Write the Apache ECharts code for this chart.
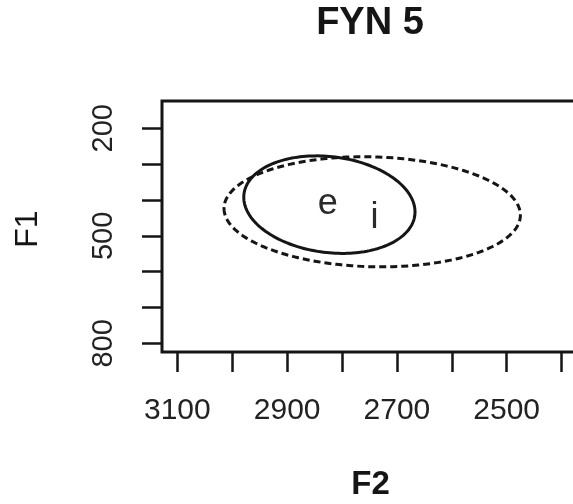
<!DOCTYPE html>
<html>
<head>
<meta charset="utf-8">
<script src="https://cdn.jsdelivr.net/npm/echarts@6/dist/echarts.min.js"></script>
<style>
  html, body { margin: 0; padding: 0; background: #fff; }
  #chart { width: 573px; height: 504px; }
</style>
</head>
<body>
<div id="chart"></div>
<script>
// Vowel labels placed at their mean formant values (Hz)
const vowels = ['e', 'i'];
const meanF2 = [2826, 2741];
const meanF1 = [412, 450];

// Spread ellipses: centre, half-extent along each axis and F2/F1 correlation
const ellipseF2 = [2823, 2745];
const ellipseF1 = [413, 433];
const halfF2 = [156, 270];
const halfF1 = [136, 153.5];
const corrF2F1 = [-0.15, -0.06];

// Axis ticks and labels
const f2Ticks = [3100, 3000, 2900, 2800, 2700, 2600, 2500, 2400];
const f2Labels = [3100, 2900, 2700, 2500];
const f1Ticks = [200, 300, 400, 500, 600, 700, 800];
const f1Labels = [200, 500, 800];

const ink = '#151515';
const font = '"Liberation Sans", Arial, sans-serif';

const ellipseData = vowels.map((v, k) => [ellipseF2[k], ellipseF1[k], halfF2[k], halfF1[k], corrF2F1[k]]);
const labelData = vowels.map((v, k) => [meanF2[k], meanF1[k], v]);
const dashStyles = [null, [7, 4]];

const chart = echarts.init(document.getElementById('chart'), null, { renderer: 'canvas' });

chart.setOption({
  animation: false,
  backgroundColor: '#fff',
  grid: {
    left: 162, top: 101, width: 427, height: 251,
    outerBoundsMode: 'none', containLabel: false,
    show: true, borderColor: ink, borderWidth: 3, backgroundColor: 'transparent'
  },
  xAxis: {
    type: 'value', inverse: true, min: 2350, max: 3128,
    axisLine: { show: false },
    splitLine: { show: false },
    axisTick: { show: true, length: 20, customValues: f2Ticks, lineStyle: { color: ink, width: 2.5 } },
    axisLabel: { customValues: f2Labels, formatter: v => String(v), fontSize: 30, fontFamily: font, color: '#222', margin: 44 }
  },
  yAxis: {
    type: 'value', inverse: true, min: 124, max: 824,
    axisLine: { show: false },
    splitLine: { show: false },
    axisTick: { show: true, length: 20, customValues: f1Ticks, lineStyle: { color: ink, width: 2.5 } },
    axisLabel: { customValues: f1Labels, formatter: v => String(v), fontSize: 29, fontFamily: font, color: '#222', rotate: 90, margin: 44 }
  },
  graphic: [
    { type: 'text', x: 370, y: 24, style: { text: 'FYN 5', font: 'bold 38px ' + font, fill: ink, textAlign: 'center', textVerticalAlign: 'middle' } },
    { type: 'text', x: 370.5, y: 485, style: { text: 'F2', font: 'bold 33px ' + font, fill: ink, textAlign: 'center', textVerticalAlign: 'middle' } },
    { type: 'text', x: 28.5, y: 229, rotation: Math.PI / 2, style: { text: 'F1', font: '32px ' + font, fill: ink, textAlign: 'center', textVerticalAlign: 'middle' } }
  ],
  series: [
    {
      type: 'custom',
      data: ellipseData,
      encode: { x: 0, y: 1 },
      renderItem: function (params, api) {
        const cx = api.value(0), cy = api.value(1);
        const hx = api.value(2), hy = api.value(3), r = api.value(4);
        const s = Math.sqrt(1 - r * r);
        const pts = [];
        for (let j = 0; j <= 180; j++) {
          const t = (j / 180) * 2 * Math.PI;
          const x = cx + hx * Math.cos(t);
          const y = cy + hy * (r * Math.cos(t) + s * Math.sin(t));
          pts.push(api.coord([x, y]));
        }
        const dash = dashStyles[params.dataIndex];
        return {
          type: 'polyline',
          shape: { points: pts },
          style: { stroke: ink, lineWidth: 3, fill: null, lineDash: dash }
        };
      }
    },
    {
      type: 'custom',
      data: labelData,
      encode: { x: 0, y: 1 },
      renderItem: function (params, api) {
        const p = api.coord([api.value(0), api.value(1)]);
        return {
          type: 'text',
          x: p[0], y: p[1],
          style: { text: vowels[params.dataIndex], font: '36px ' + font, fill: '#2a2a2a', textAlign: 'center', textVerticalAlign: 'middle' }
        };
      }
    }
  ]
});
</script>
</body>
</html>
